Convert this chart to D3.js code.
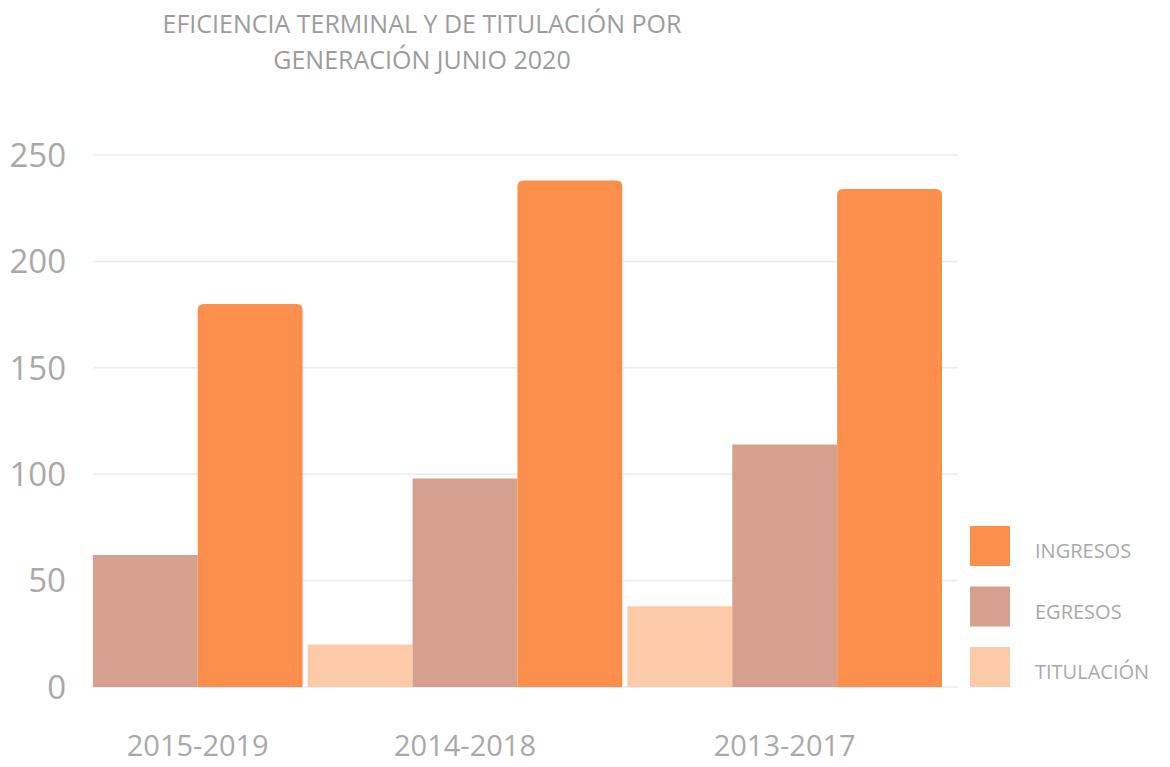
<!DOCTYPE html>
<html>
<head>
<meta charset="utf-8">
<script src="https://cdn.jsdelivr.net/npm/d3@7"></script>
<style>
    body { margin: 0; background: #fff; }
    svg { display: block; font-family: "Open Sans", sans-serif; }
</style>
</head>
<body>
<div id="chart"></div>
<script>
// data
const generaciones = ["2015-2019", "2014-2018", "2013-2017"];
const series = ["TITULACIÓN", "EGRESOS", "INGRESOS"];
const titulacion = [null, 20, 38];
const egresos = [62, 98, 114];
const ingresos = [180, 238, 234];
const yTicks = [0, 50, 100, 150, 200, 250];
const titleLines = ["EFICIENCIA TERMINAL Y DE TITULACIÓN POR", "GENERACIÓN JUNIO 2020"];
const legendOrder = ["INGRESOS", "EGRESOS", "TITULACIÓN"];

const width = 1170, height = 767;
const colors = { "INGRESOS": "#fd8f4c", "EGRESOS": "#d6a08f", "TITULACIÓN": "#fdcaa8" };
const valuesBySeries = { "TITULACIÓN": titulacion, "EGRESOS": egresos, "INGRESOS": ingresos };

const svg = d3.select("#chart").append("svg")
    .attr("width", width)
    .attr("height", height)
    .style("background-color", "white");

// title
svg.append("g").selectAll("text")
    .data(titleLines)
    .enter().append("text")
    .attr("x", 422)
    .attr("y", function (d, i) { return 33 + i * 36; })
    .attr("text-anchor", "middle")
    .attr("fill", "#9c9c9c")
    .style("font-size", "25px")
    .text(function (d) { return d; });

const y = d3.scaleLinear().domain([0, 250]).range([687, 155]);

const x0 = d3.scaleBand().domain(generaciones).range([-12, 942]).paddingInner(0.016).paddingOuter(0);
const x1 = d3.scaleBand().domain(series).range([0, x0.bandwidth()]).padding(0);

// gridlines + y labels
const yAxis = svg.append("g").attr("class", "y-axis");
yAxis.selectAll("line")
    .data(yTicks)
    .enter().append("line")
    .attr("x1", 93).attr("x2", 958)
    .attr("y1", function (d) { return y(d); })
    .attr("y2", function (d) { return y(d); })
    .attr("stroke", "#ececec")
    .attr("stroke-width", 1.5);
yAxis.selectAll("text")
    .data(yTicks)
    .enter().append("text")
    .attr("x", 66)
    .attr("y", function (d) { return y(d); })
    .attr("dy", "0.36em")
    .attr("text-anchor", "end")
    .attr("fill", "#a9a9a9")
    .style("font-size", "33px")
    .text(function (d) { return d; });

// bars
const rows = [];
generaciones.forEach(function (g, gi) {
    series.forEach(function (s) {
        const v = valuesBySeries[s][gi];
        if (v !== null) rows.push({ gen: g, serie: s, value: v });
    });
});

function barPath(d) {
    const xl = x0(d.gen) + x1(d.serie);
    const w = x1.bandwidth();
    const top = y(d.value), bottom = y(0);
    const r = d.serie === "INGRESOS" ? 6 : 0;
    return "M" + xl + "," + bottom +
        "V" + (top + r) +
        "Q" + xl + "," + top + " " + (xl + r) + "," + top +
        "H" + (xl + w - r) +
        "Q" + (xl + w) + "," + top + " " + (xl + w) + "," + (top + r) +
        "V" + bottom + "Z";
}

svg.append("g").attr("class", "bars")
    .selectAll("path")
    .data(rows)
    .enter().append("path")
    .attr("d", barPath)
    .attr("fill", function (d) { return colors[d.serie]; });

// category labels, centred under the bars that exist
svg.append("g").selectAll("text")
    .data(generaciones)
    .enter().append("text")
    .attr("x", function (g, gi) {
        const present = series.filter(function (s) { return valuesBySeries[s][gi] !== null; });
        const left = x0(g) + x1(present[0]);
        const right = x0(g) + x1(present[present.length - 1]) + x1.bandwidth();
        return (left + right) / 2;
    })
    .attr("y", 756)
    .attr("text-anchor", "middle")
    .attr("fill", "#a9a9a9")
    .style("font-size", "29px")
    .text(function (d) { return d; });

// legend
const legend = svg.append("g").attr("transform", "translate(970,526)");
const items = legend.selectAll("g")
    .data(legendOrder)
    .enter().append("g")
    .attr("transform", function (d, i) { return "translate(0," + i * 60.5 + ")"; });
items.append("rect")
    .attr("width", 40).attr("height", 40)
    .attr("fill", function (d) { return colors[d]; });
items.append("text")
    .attr("x", 65).attr("y", 25)
    .attr("dy", "0.36em")
    .attr("fill", "#a9a9a9")
    .style("font-size", "20px")
    .text(function (d) { return d; });
</script>
</body>
</html>
